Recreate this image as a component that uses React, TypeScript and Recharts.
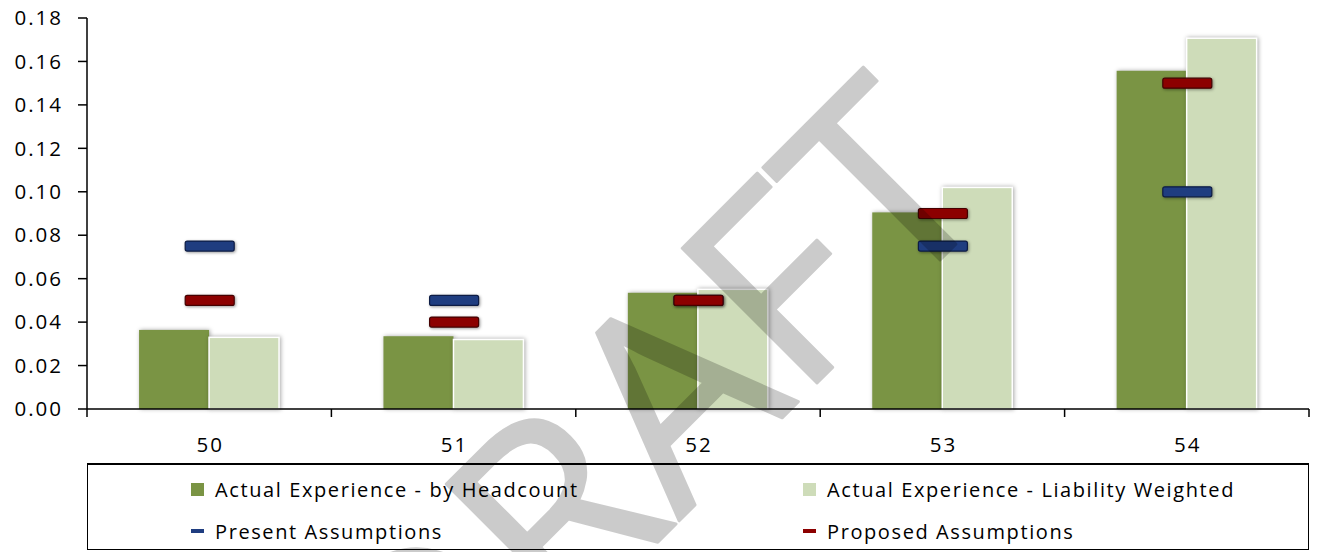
import React from "react";
import {
    ComposedChart,
    Bar,
    Scatter,
    XAxis,
    YAxis,
    Legend,
} from "recharts";

const ages = ["50", "51", "52", "53", "54"];
const headcount = [0.0364, 0.0335, 0.0535, 0.0905, 0.1557];
const liability = [0.033, 0.032, 0.0551, 0.102, 0.1707];
const present = [0.075, 0.05, 0.05, 0.075, 0.1];
const proposed = [0.05, 0.04, 0.05, 0.09, 0.15];
const yTicks = [0, 0.02, 0.04, 0.06, 0.08, 0.1, 0.12, 0.14, 0.16, 0.18];

const data = ages.map((age, i) => ({
    age,
    headcount: headcount[i],
    liability: liability[i],
    present: present[i],
    proposed: proposed[i],
}));

const W = 1325;
const H = 552;
const LEFT = 87;
const RIGHT = 16;
const BAND = (W - LEFT - RIGHT) / ages.length;
const FONT = "'Open Sans', sans-serif";

const DARK = "#7A9444";
const LIGHT = "#CEDCB9";
const BLUE = "#1F3D80";
const RED = "#8C0000";

function XTick(props: any) {
    const { x, y, payload, index } = props;
    const last = index === ages.length - 1;
    return (
        <g>
            <line x1={x - BAND / 2} x2={x - BAND / 2} y1={y} y2={y + 8} stroke="#000" strokeWidth={1.5} />
            {last && <line x1={x + BAND / 2} x2={x + BAND / 2} y1={y} y2={y + 8} stroke="#000" strokeWidth={1.5} />}
            <text x={x + 1} y={y + 43} textAnchor="middle" fontSize={20.5} fontFamily={FONT} fill="#000" letterSpacing={2}>
                {payload.value}
            </text>
        </g>
    );
}

const barShape = (stroke?: string) => (props: any) => {
    const { x, y, width, height, fill } = props;
    return (
        <rect
            x={x}
            y={y}
            width={width}
            height={height}
            fill={fill}
            stroke={stroke}
            strokeWidth={stroke ? 1.5 : 0}
            style={{ filter: "drop-shadow(1px 0px 2px rgba(0,0,0,0.35))" }}
        />
    );
};

const dash = (fill: string, edge: string) => (props: any) => {
    const { cx, cy } = props;
    return (
        <rect
            x={cx - 24}
            y={cy - 5}
            width={49}
            height={10}
            rx={2}
            fill={fill}
            stroke={edge}
            strokeWidth={1.2}
            style={{ filter: "drop-shadow(1px 1px 1.5px rgba(0,0,0,0.4))" }}
        />
    );
};

const legendItems = [
    { label: "Actual Experience - by Headcount", color: DARK, kind: "box", left: 103, top: 14 },
    { label: "Actual Experience - Liability Weighted", color: LIGHT, kind: "box", left: 715, top: 14 },
    { label: "Present Assumptions", color: BLUE, kind: "dash", left: 103, top: 56 },
    { label: "Proposed Assumptions", color: RED, kind: "dash", left: 715, top: 56 },
];

function LegendBox() {
    return (
        <div
            style={{
                position: "relative",
                width: W - LEFT - RIGHT,
                height: 87,
                boxSizing: "border-box",
                border: "1px solid #000",
                borderTop: "2px solid #000",
                fontFamily: FONT,
                fontSize: 20,
                color: "#000",
            }}
        >
            {legendItems.map((it) => (
                <div key={it.label} style={{ position: "absolute", left: it.left, top: it.top, height: 20, display: "flex", alignItems: "center", whiteSpace: "nowrap" }}>
                    {it.kind === "box" ? (
                        <span style={{ width: 13, height: 13, background: it.color, display: "inline-block" }} />
                    ) : (
                        <span style={{ width: 13, height: 4, background: it.color, display: "inline-block" }} />
                    )}
                    <span style={{ marginLeft: 11, letterSpacing: 1.6 }}>{it.label}</span>
                </div>
            ))}
        </div>
    );
}

export default function App() {
    return (
        <div style={{ position: "absolute", left: 0, top: 0, width: W, height: H, background: "#fff" }}>
            <ComposedChart
                width={W}
                height={H}
                data={data}
                margin={{ top: 18, right: RIGHT, left: 0, bottom: 2 }}
                barCategoryGap="21.3%"
                barGap={0}
            >
                <XAxis
                    dataKey="age"
                    interval={0}
                    tickLine={false}
                    tickSize={0}
                    tickMargin={0}
                    height={54}
                    axisLine={{ stroke: "#000", strokeWidth: 1.5 }}
                    tick={<XTick />}
                />
                <YAxis
                    domain={[0, 0.18]}
                    ticks={yTicks}
                    width={LEFT}
                    tickSize={9}
                    tickMargin={15}
                    tickFormatter={(v: number) => v.toFixed(2)}
                    axisLine={{ stroke: "#000", strokeWidth: 1.5 }}
                    tickLine={{ stroke: "#000", strokeWidth: 1.5 }}
                    tick={{ fill: "#000", fontSize: 20.5, fontFamily: FONT, letterSpacing: 2 }}
                />
                <Bar dataKey="headcount" name="Actual Experience - by Headcount" fill={DARK} shape={barShape()} isAnimationActive={false} />
                <Bar dataKey="liability" name="Actual Experience - Liability Weighted" fill={LIGHT} shape={barShape("#fff")} isAnimationActive={false} />
                <Scatter dataKey="present" name="Present Assumptions" fill={BLUE} shape={dash(BLUE, "#0D1C45")} isAnimationActive={false} />
                <Scatter dataKey="proposed" name="Proposed Assumptions" fill={RED} shape={dash(RED, "#450000")} isAnimationActive={false} />
                <Legend
                    verticalAlign="bottom"
                    content={<LegendBox />}
                    wrapperStyle={{ position: "absolute", left: LEFT, top: 463, width: W - LEFT - RIGHT, height: 87 }}
                />
            </ComposedChart>
            <svg width={W} height={H} style={{ position: "absolute", left: 0, top: 0, pointerEvents: "none" }}>
                <g opacity={0.2}>
                    <text
                        x={1000}
                        y={200}
                        textAnchor="end"
                        fontFamily={FONT}
                        fontSize={267}
                        fill="#000"
                        stroke="#000"
                        strokeWidth={3}
                        strokeLinejoin="round"
                        transform="rotate(-45 1000 200)"
                    >
                        DRAFT
                    </text>
                </g>
            </svg>
        </div>
    );
}
